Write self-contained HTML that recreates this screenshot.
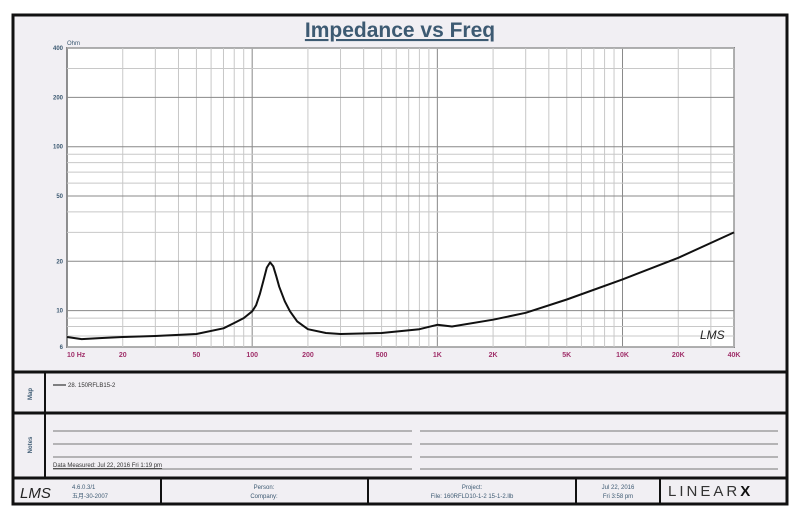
<!DOCTYPE html>
<html><head><meta charset="utf-8">
<style>
body{margin:0;background:#fff;width:800px;height:515px;overflow:hidden;font-family:"Liberation Sans",sans-serif;}
svg{display:block}
</style></head>
<body>
<svg width="800" height="515" viewBox="0 0 800 515" font-family="Liberation Sans, Noto Sans CJK SC, sans-serif">
<rect x="13" y="15" width="774" height="489" fill="#f1eff3" stroke="#111" stroke-width="3"/>
<text x="400" y="37" text-anchor="middle" font-size="21" font-weight="bold" fill="#3d5a72" text-decoration="underline">Impedance vs Freq</text>
<g id="plot">
<rect x="67" y="48" width="667" height="299" fill="#fff" stroke="#333" stroke-width="1.5"/>
<g id="grid"></g>
<path id="curve" fill="none" stroke="#111" stroke-width="2" stroke-linejoin="round"/>
<g id="ticks"></g>
<text x="700" y="339" font-size="12" font-style="italic" fill="#222">LMS</text>
<text x="67" y="45" font-size="6" fill="#3d5a72">Ohm</text>
</g>
<line x1="13" y1="372" x2="787" y2="372" stroke="#111" stroke-width="3"/>
<line x1="13" y1="413" x2="787" y2="413" stroke="#111" stroke-width="3"/>
<line x1="13" y1="478" x2="787" y2="478" stroke="#111" stroke-width="3"/>
<line x1="45" y1="372" x2="45" y2="478" stroke="#111" stroke-width="2"/>
<text transform="translate(32,394) rotate(-90)" text-anchor="middle" font-size="6" fill="#3d5a72" font-weight="bold">Map</text>
<text transform="translate(32,445) rotate(-90)" text-anchor="middle" font-size="6" fill="#3d5a72" font-weight="bold">Notes</text>
<line x1="53" y1="385" x2="66" y2="385" stroke="#333" stroke-width="1.2"/>
<text x="68" y="387" font-size="6" fill="#333">28. 150RFLB15-2</text>
<g stroke="#777" stroke-width="1">
<line x1="53" y1="431" x2="412" y2="431"/><line x1="420" y1="431" x2="778" y2="431"/>
<line x1="53" y1="444" x2="412" y2="444"/><line x1="420" y1="444" x2="778" y2="444"/>
<line x1="53" y1="457" x2="412" y2="457"/><line x1="420" y1="457" x2="778" y2="457"/>
<line x1="53" y1="469" x2="412" y2="469"/><line x1="420" y1="469" x2="778" y2="469"/>
</g>
<text x="53" y="467" font-size="6" fill="#333" text-decoration="underline">Data Measured: Jul 22, 2016 Fri 1:19 pm</text>
<g stroke="#111" stroke-width="2">
<line x1="161" y1="478" x2="161" y2="504"/><line x1="368" y1="478" x2="368" y2="504"/>
<line x1="576" y1="478" x2="576" y2="504"/><line x1="660" y1="478" x2="660" y2="504"/>
</g>
<text x="20" y="498" font-size="15" font-style="italic" fill="#222">LMS</text>
<text x="72" y="489" font-size="6" fill="#3d5a72">4.6.0.3/1</text>
<text x="72" y="498" font-size="6" fill="#3d5a72">五月-30-2007</text>
<text x="264" y="489" text-anchor="middle" font-size="6" fill="#3d5a72">Person:</text>
<text x="264" y="498" text-anchor="middle" font-size="6" fill="#3d5a72">Company:</text>
<text x="472" y="489" text-anchor="middle" font-size="6" fill="#3d5a72">Project:</text>
<text x="472" y="498" text-anchor="middle" font-size="6" fill="#3d5a72">File: 160RFLD10-1-2 15-1-2.llb</text>
<text x="618" y="489" text-anchor="middle" font-size="6" fill="#3d5a72">Jul 22, 2016</text>
<text x="618" y="498" text-anchor="middle" font-size="6" fill="#3d5a72">Fri 3:58 pm</text>
<text x="668" y="496" font-size="15" letter-spacing="3" fill="#333">LINEAR<tspan font-weight="bold" fill="#111">X</tspan></text>
</svg>
<script>
const freqs=[10,12,15,20,30,50,70,80,90,100,105,110,115,120,125,130,135,140,150,160,175,200,250,300,500,800,1000,1200,2000,3000,5000,10000,20000,40000];
const ohms=[6.9,6.7,6.8,6.9,7.0,7.2,7.8,8.4,9.0,9.9,10.8,12.6,15.2,18.3,19.7,18.6,16.2,14.0,11.4,9.9,8.6,7.7,7.3,7.2,7.3,7.7,8.2,8.0,8.8,9.7,11.7,15.5,21,30];
const xTicks=[10,20,50,100,200,500,1000,2000,5000,10000,20000,40000];
const xLabels=["10  Hz","20","50","100","200","500","1K","2K","5K","10K","20K","40K"];
const yTicks=[6,10,20,50,100,200,400];
const yLabels=["6","10","20","50","100","200","400"];
const X0=67,X1=734,Y0=347,Y1=48,FMIN=10,FMAX=40000,ZMIN=6,ZMAX=400;
const xs=f=>X0+(Math.log10(f/FMIN)/Math.log10(FMAX/FMIN))*(X1-X0);
const ys=z=>Y0-(Math.log10(z/ZMIN)/Math.log10(ZMAX/ZMIN))*(Y0-Y1);
const NS="http://www.w3.org/2000/svg";
const grid=document.getElementById('grid'),ticks=document.getElementById('ticks');
function ln(x1,y1,x2,y2,c,w,p){const l=document.createElementNS(NS,'line');l.setAttribute('x1',x1);l.setAttribute('y1',y1);l.setAttribute('x2',x2);l.setAttribute('y2',y2);l.setAttribute('stroke',c);l.setAttribute('stroke-width',w);p.appendChild(l);return l;}
for(let d=10;d<=10000;d*=10){for(let m=1;m<10;m++){const f=d*m;if(f>FMAX)break;
const g=ln(xs(f),Y1,xs(f),Y0,m==1?'#888':'#c8c8c8',1,grid);

}}
for(let d=1;d<=100;d*=10){for(let m=1;m<10;m++){const z=d*m;if(z<ZMIN||z>ZMAX)continue;
const g=ln(X0,ys(z),X1,ys(z),(m==1||m==2||m==5)?'#888':'#c8c8c8',1,grid);

}}
xTicks.forEach((f,i)=>{const t=document.createElementNS(NS,'text');t.setAttribute('x',xs(f));t.setAttribute('y',357);t.setAttribute('font-size','7');t.setAttribute('font-weight','bold');t.setAttribute('fill','#a0306a');t.setAttribute('text-anchor',i==0?'start':'middle');t.textContent=xLabels[i];


ticks.appendChild(t);});
yTicks.forEach((z,i)=>{const t=document.createElementNS(NS,'text');t.setAttribute('x',63);t.setAttribute('y',ys(z)+2);t.setAttribute('font-size','6');t.setAttribute('font-weight','bold');t.setAttribute('fill','#3d5a72');t.setAttribute('text-anchor','end');t.textContent=yLabels[i];


ticks.appendChild(t);});
let d='';freqs.forEach((f,i)=>{d+=(i?'L':'M')+xs(f).toFixed(1)+','+ys(ohms[i]).toFixed(1);});
document.getElementById('curve').setAttribute('d',d);
</script>
</body></html>
